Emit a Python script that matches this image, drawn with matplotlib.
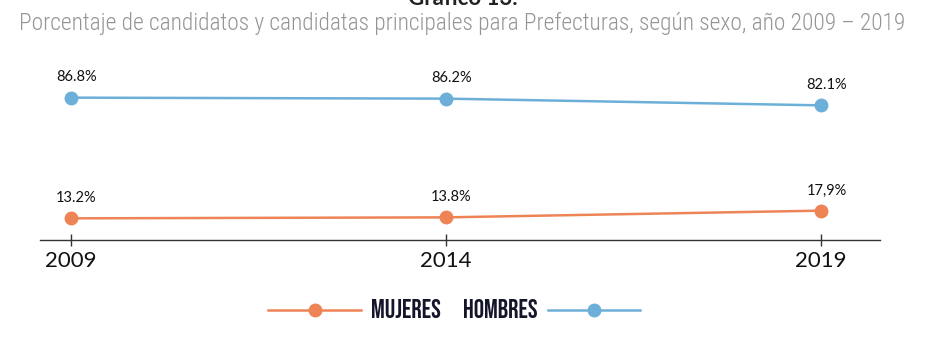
import matplotlib
matplotlib.use("Agg")
import matplotlib.pyplot as plt
from matplotlib.lines import Line2D

years = [2009, 2014, 2019]
mujeres = [13.2, 13.8, 17.9]
hombres = [86.8, 86.2, 82.1]
lab_mujeres = ["13.2%", "13.8%", "17,9%"]
lab_hombres = ["86.8%", "86.2%", "82.1%"]

c_muj = "#EE8456"
c_hom = "#6CB0D9"

fig = plt.figure(figsize=(9.25, 3.4), dpi=100)
ax = fig.add_axes([40 / 925, 100 / 340, 840 / 925, 180 / 340])

ax.plot(years, hombres, color=c_hom, lw=1.8, marker="o", ms=9, zorder=3)
ax.plot(years, mujeres, color=c_muj, lw=1.8, marker="o", ms=9, zorder=3)

for x, v, t in zip(years, hombres, lab_hombres):
    ax.annotate(t, (x, v), xytext=(4, 9.5), textcoords="offset points",
                ha="center", va="bottom", fontsize=10.5, family="Lato", color="#111")
for x, v, t in zip(years, mujeres, lab_mujeres):
    ax.annotate(t, (x, v), xytext=(4, 9.5), textcoords="offset points",
                ha="center", va="bottom", fontsize=10.5, family="Lato", color="#111")

ax.set_xlim(2009 - 31 / 75, 2019 + 59 / 75)
ax.set_ylim(0, 180 / 1.64)
ax.set_xticks(years)
ax.set_xticklabels([str(y) for y in years], fontsize=16, family="Lato", color="#111")
ax.set_yticks([])
for s in ["top", "right", "left"]:
    ax.spines[s].set_visible(False)
ax.spines["bottom"].set_color("#333")
ax.spines["bottom"].set_linewidth(1)
ax.tick_params(axis="x", direction="inout", length=8, width=1, color="#333", pad=4)

# titulo (cortado arriba, como en el original)
fig.text(0.5, 1 - 5 / 340, "Gráfico 13.", ha="center", va="baseline", fontsize=16,
         fontweight="bold", color="#222", family="Lato")
fig.text(0.5, 1 - 23 / 340, "Porcentaje de candidatos y candidatas principales para Prefecturas, según sexo, año 2009 – 2019",
         ha="center", va="center", fontsize=16.8, color="#959595", family="Roboto Condensed", fontweight="light")

# leyenda
h_muj = Line2D([], [], color=c_muj, lw=1.8, marker="o", ms=9)
h_hom = Line2D([], [], color=c_hom, lw=1.8, marker="o", ms=9)
lfont = {"family": "Bebas Neue", "size": 18.5}
fig.legend([h_muj], ["MUJERES"], loc="center right", bbox_to_anchor=(441 / 925, 1 - 309 / 340),
           frameon=False, prop=lfont, handlelength=3.6, handletextpad=0.4, borderpad=0, borderaxespad=0)
fig.legend([h_hom], ["HOMBRES"], loc="center left", bbox_to_anchor=(463 / 925, 1 - 309 / 340),
           frameon=False, prop=lfont, handlelength=3.6, handletextpad=0.4, borderpad=0, borderaxespad=0,
           markerfirst=False)
for lg in fig.legends:
    for t in lg.get_texts():
        t.set_color("#15152a")

fig.savefig("out.png", dpi=100)
